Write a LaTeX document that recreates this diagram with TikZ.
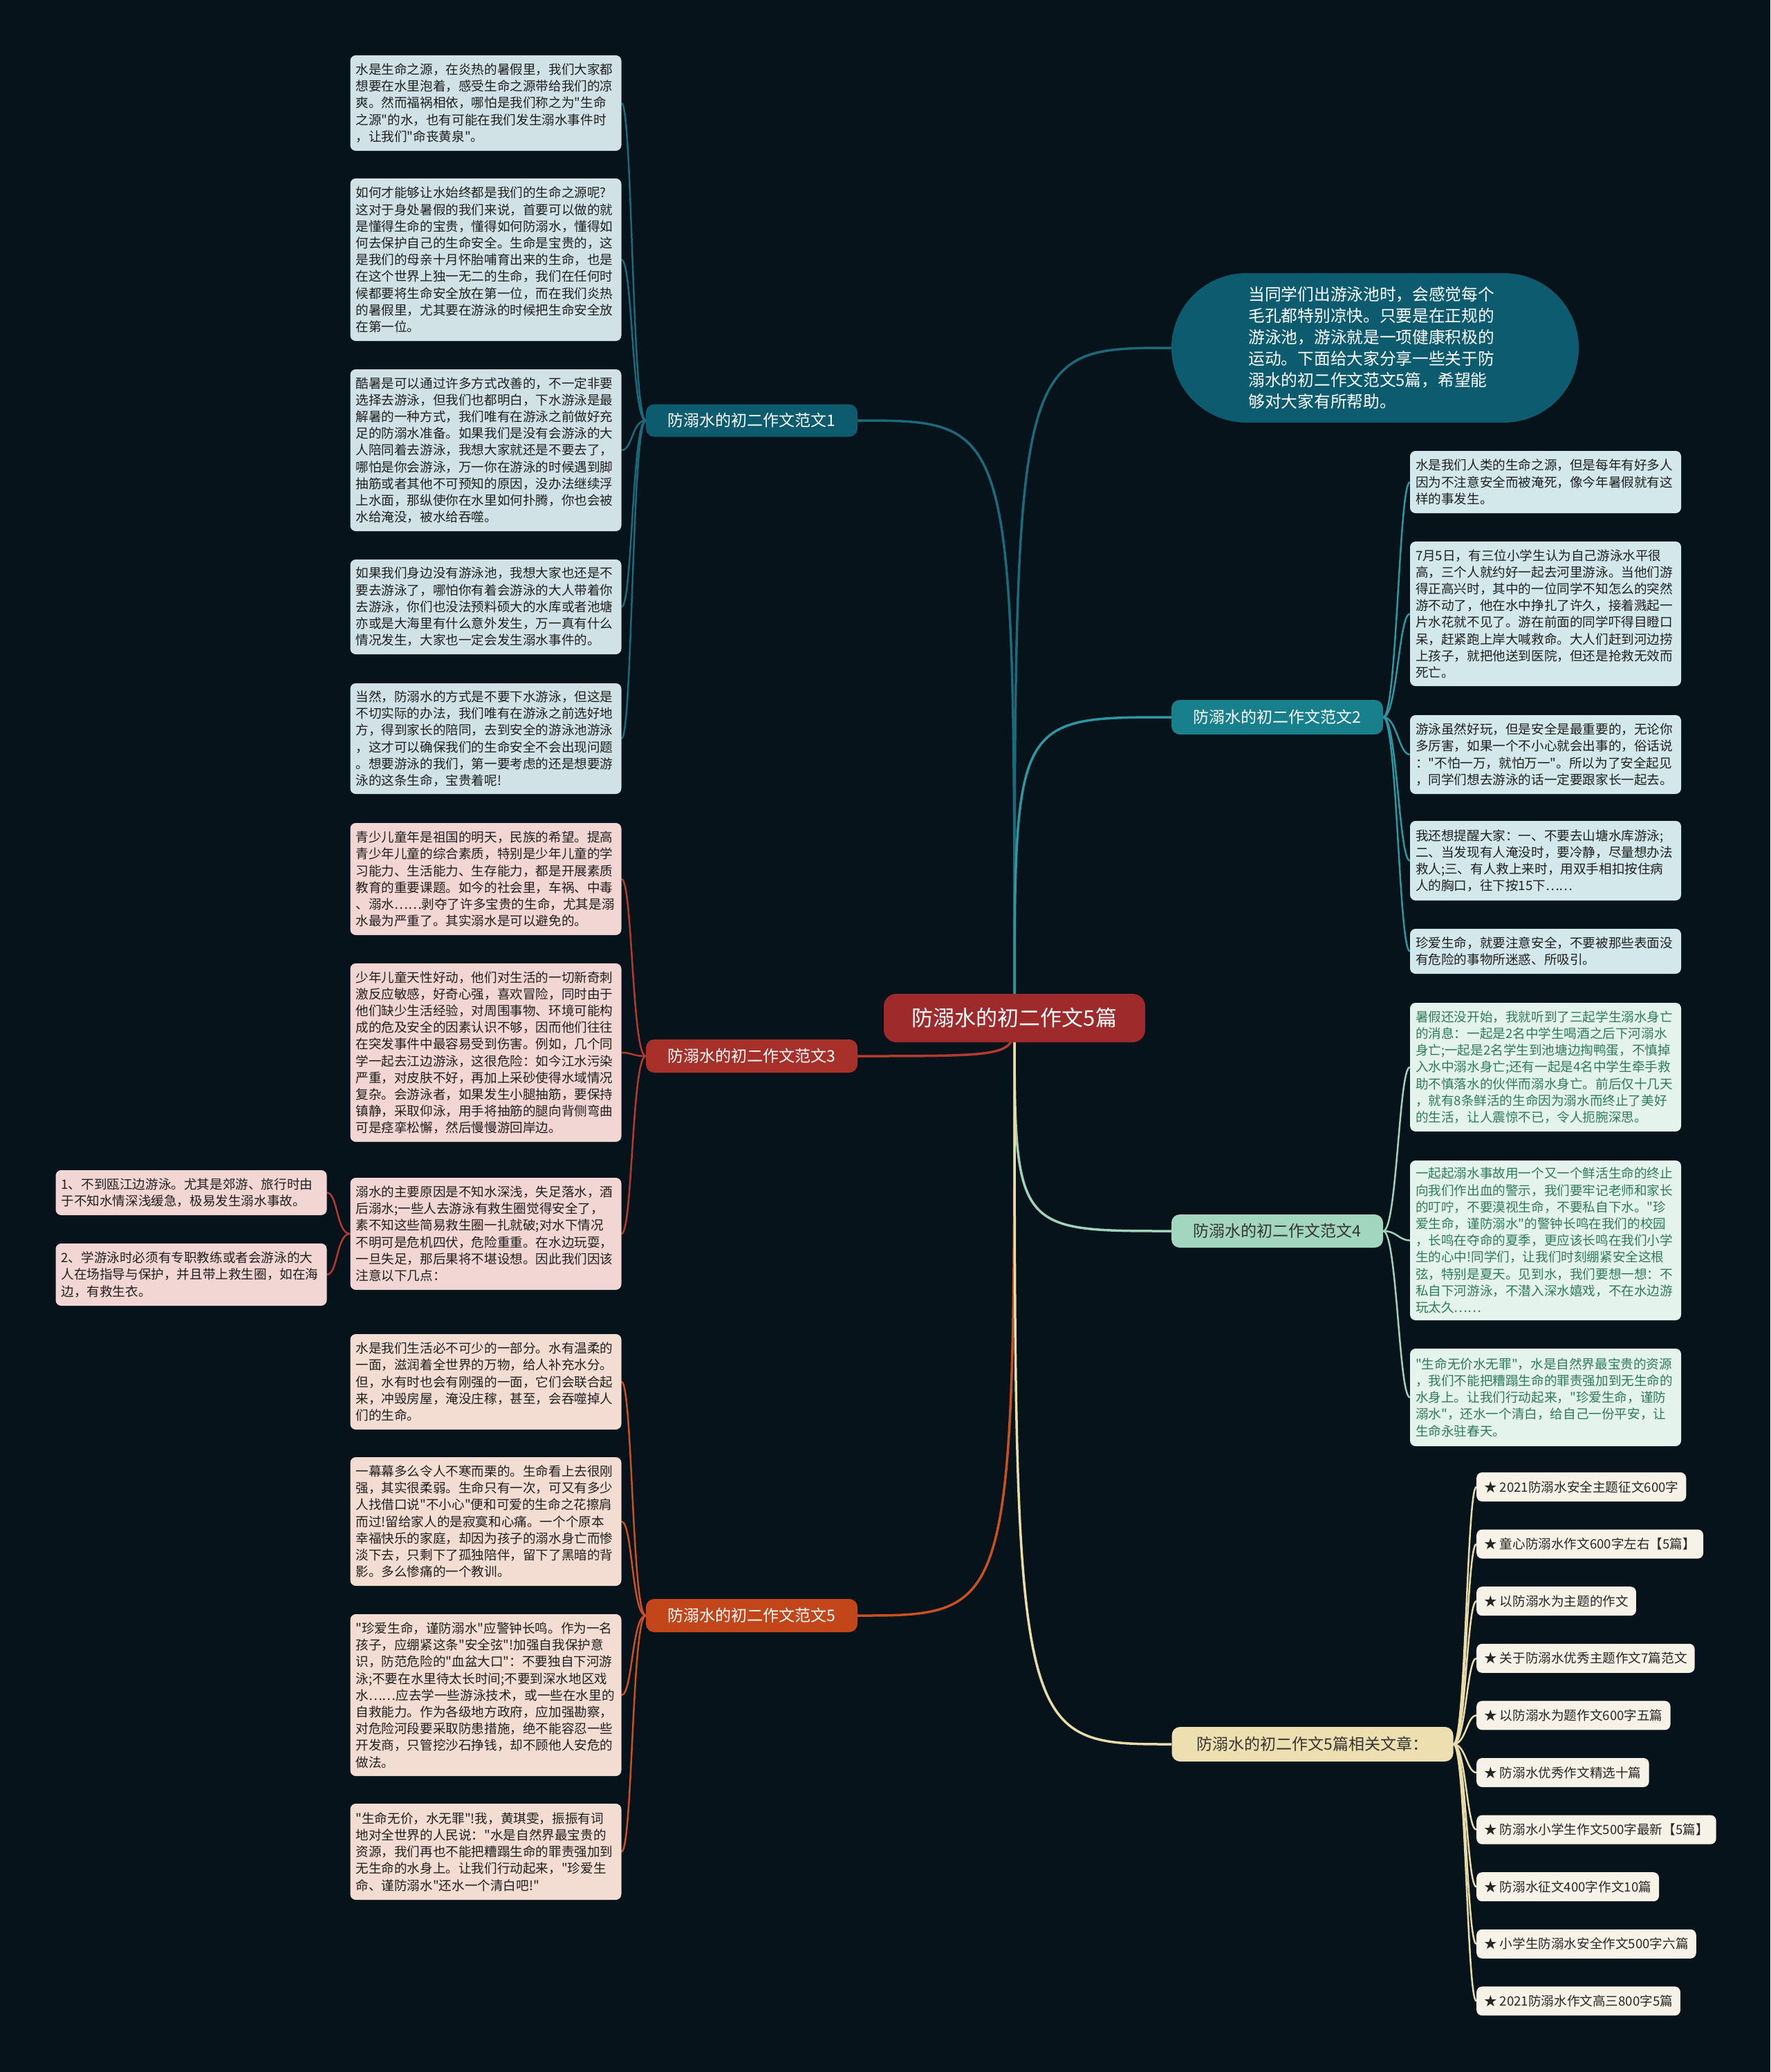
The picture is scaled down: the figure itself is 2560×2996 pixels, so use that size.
\documentclass[tikz,border=0pt]{standalone}
\usepackage{fontspec}
\setmainfont{Noto Sans CJK SC}[Ligatures=TeXOff]
\pgfdeclarelayer{bg}
\pgfdeclarelayer{lines}
\pgfsetlayers{bg,lines,main}
\definecolor{bgc}{HTML}{07131A}
\definecolor{tealD}{HTML}{0D5B6E}
\definecolor{tealM}{HTML}{17808C}
\definecolor{redB}{HTML}{A8302A}
\definecolor{orgB}{HTML}{C2461A}
\definecolor{mintB}{HTML}{A3D6BF}
\definecolor{yelB}{HTML}{EEDFB0}
\definecolor{ctrB}{HTML}{9E2A2B}
\definecolor{boxT}{HTML}{D0E2E6}
\definecolor{boxT2}{HTML}{D3E8EA}
\definecolor{boxM}{HTML}{E4F3EC}
\definecolor{boxR}{HTML}{F2D6D3}
\definecolor{boxO}{HTML}{F3DDD3}
\definecolor{boxY}{HTML}{F6F2E7}
\definecolor{txtM}{HTML}{2E7A5E}
\definecolor{lnT}{HTML}{1B6A7C}
\definecolor{lnT2}{HTML}{2A97A1}
\definecolor{lnR}{HTML}{B33A2E}
\definecolor{lnO}{HTML}{C8511F}
\definecolor{lnM}{HTML}{9ED3BC}
\definecolor{lnY}{HTML}{EADCA8}
\tikzset{
  bodyfont/.style={font=\fontsize{18.6}{24.2}\selectfont},
  para/.style={bodyfont, rounded corners=8pt, align=left, text width=376pt, inner xsep=8pt, inner ysep=3pt, text=black!88},
  tbox/.style={para, fill=boxT},
  t2box/.style={para, fill=boxT2},
  mbox/.style={para, fill=boxM, text=txtM},
  rbox/.style={para, fill=boxR},
  obox/.style={para, fill=boxO},
  ybox/.style={bodyfont, rounded corners=8pt, fill=boxY, text=black!85, inner xsep=11pt, minimum height=42pt, anchor=west},
  branch/.style={font=\fontsize{23}{28}\selectfont, rounded corners=12pt, minimum width=306pt, minimum height=48pt, text=white},
  cline/.style={line width=3.5pt},
  kline/.style={line width=2.5pt},
}
\begin{document}
\begin{tikzpicture}[x=1pt,y=-1pt]
\useasboundingbox (0,0) rectangle (2560,2996);
\begin{pgfonlayer}{bg}
\fill[bgc] (0,0) rectangle (2560,2996);
\end{pgfonlayer}

% center
\node[font=\fontsize{31}{36}\selectfont, fill=ctrB, text=white, rounded corners=18pt, minimum width=378pt, minimum height=70pt] (c) at (1467,1472) {防溺水的初二作文5篇};

% intro
\node[font=\fontsize{23.7}{31}\selectfont, fill=tealD, text=white, rounded corners=108pt, minimum width=589pt, minimum height=216pt, align=left, text width=366pt] (intro) at (1988.5,503) {当同学们出游泳池时，会感觉每个\\毛孔都特别凉快。只要是在正规的\\游泳池，游泳就是一项健康积极的\\运动。下面给大家分享一些关于防\\溺水的初二作文范文5篇，希望能\\够对大家有所帮助。};

% branches
\node[branch, fill=tealD, minimum height=47pt] (b1) at (1087,608) {防溺水的初二作文范文1};
\node[branch, fill=tealM, minimum height=50pt] (b2) at (1847,1037) {防溺水的初二作文范文2};
\node[branch, fill=redB] (b3) at (1087,1527) {防溺水的初二作文范文3};
\node[branch, fill=mintB, text=black!80] (b4) at (1847,1780) {防溺水的初二作文范文4};
\node[branch, fill=orgB] (b5) at (1087,2336) {防溺水的初二作文范文5};
\node[branch, fill=yelB, text=black!80, minimum width=407pt, minimum height=50pt] (b6) at (1898,2522) {防溺水的初二作文5篇相关文章：};

% branch 1 children
\node[tbox, minimum height=138pt] (b1a) at (702.5,149) {水是生命之源，在炎热的暑假里，我们大家都\\想要在水里泡着，感受生命之源带给我们的凉\\爽。然而福祸相依，哪怕是我们称之为"生命\\之源"的水，也有可能在我们发生溺水事件时\\，让我们"命丧黄泉"。};
\node[tbox, minimum height=235pt] (b1b) at (702.5,375.5) {如何才能够让水始终都是我们的生命之源呢?\\这对于身处暑假的我们来说，首要可以做的就\\是懂得生命的宝贵，懂得如何防溺水，懂得如\\何去保护自己的生命安全。生命是宝贵的，这\\是我们的母亲十月怀胎哺育出来的生命，也是\\在这个世界上独一无二的生命，我们在任何时\\候都要将生命安全放在第一位，而在我们炎热\\的暑假里，尤其要在游泳的时候把生命安全放\\在第一位。};
\node[tbox, minimum height=234pt] (b1c) at (702.5,651) {酷暑是可以通过许多方式改善的，不一定非要\\选择去游泳，但我们也都明白，下水游泳是最\\解暑的一种方式，我们唯有在游泳之前做好充\\足的防溺水准备。如果我们是没有会游泳的大\\人陪同着去游泳，我想大家就还是不要去了，\\哪怕是你会游泳，万一你在游泳的时候遇到脚\\抽筋或者其他不可预知的原因，没办法继续浮\\上水面，那纵使你在水里如何扑腾，你也会被\\水给淹没，被水给吞噬。};
\node[tbox, minimum height=137pt] (b1d) at (702.5,877.5) {如果我们身边没有游泳池，我想大家也还是不\\要去游泳了，哪怕你有着会游泳的大人带着你\\去游泳，你们也没法预料硕大的水库或者池塘\\亦或是大海里有什么意外发生，万一真有什么\\情况发生，大家也一定会发生溺水事件的。};
\node[tbox, minimum height=160pt] (b1e) at (702.5,1068) {当然，防溺水的方式是不要下水游泳，但这是\\不切实际的办法，我们唯有在游泳之前选好地\\方，得到家长的陪同，去到安全的游泳池游泳\\，这才可以确保我们的生命安全不会出现问题\\。想要游泳的我们，第一要考虑的还是想要游\\泳的这条生命，宝贵着呢!};

% branch 3 children
\node[rbox, minimum height=162pt] (b3a) at (702.5,1271) {青少儿童年是祖国的明天，民族的希望。提高\\青少年儿童的综合素质，特别是少年儿童的学\\习能力、生活能力、生存能力，都是开展素质\\教育的重要课题。如今的社会里，车祸、中毒\\、溺水……剥夺了许多宝贵的生命，尤其是溺\\水最为严重了。其实溺水是可以避免的。};
\node[rbox, minimum height=258pt] (b3b) at (702.5,1522) {少年儿童天性好动，他们对生活的一切新奇刺\\激反应敏感，好奇心强，喜欢冒险，同时由于\\他们缺少生活经验，对周围事物、环境可能构\\成的危及安全的因素认识不够，因而他们往往\\在突发事件中最容易受到伤害。例如，几个同\\学一起去江边游泳，这很危险：如今江水污染\\严重，对皮肤不好，再加上采砂使得水域情况\\复杂。会游泳者，如果发生小腿抽筋，要保持\\镇静，采取仰泳，用手将抽筋的腿向背侧弯曲\\可是痉挛松懈，然后慢慢游回岸边。};
\node[rbox, minimum height=162pt] (b3c) at (702.5,1784) {溺水的主要原因是不知水深浅，失足落水，酒\\后溺水;一些人去游泳有救生圈觉得安全了，\\素不知这些简易救生圈一扎就破;对水下情况\\不明可是危机四伏，危险重重。在水边玩耍，\\一旦失足，那后果将不堪设想。因此我们因该\\注意以下几点：};
\node[rbox, minimum height=65pt] (l1) at (276.5,1724.5) {1、不到瓯江边游泳。尤其是郊游、旅行时由\\于不知水情深浅缓急，极易发生溺水事故。};
\node[rbox, minimum height=90pt] (l2) at (276.5,1843) {2、学游泳时必须有专职教练或者会游泳的大\\人在场指导与保护，并且带上救生圈，如在海\\边，有救生衣。};

% branch 5 children
\node[obox, minimum height=138pt] (b5a) at (702.5,1998) {水是我们生活必不可少的一部分。水有温柔的\\一面，滋润着全世界的万物，给人补充水分。\\但，水有时也会有刚强的一面，它们会联合起\\来，冲毁房屋，淹没庄稼，甚至，会吞噬掉人\\们的生命。};
\node[obox, minimum height=186pt] (b5b) at (702.5,2200) {一幕幕多么令人不寒而栗的。生命看上去很刚\\强，其实很柔弱。生命只有一次，可又有多少\\人找借口说"不小心"便和可爱的生命之花擦肩\\而过!留给家人的是寂寞和心痛。一个个原本\\幸福快乐的家庭，却因为孩子的溺水身亡而惨\\淡下去，只剩下了孤独陪伴，留下了黑暗的背\\影。多么惨痛的一个教训。};
\node[obox, minimum height=234pt] (b5c) at (702.5,2451) {"珍爱生命，谨防溺水"应警钟长鸣。作为一名\\孩子，应绷紧这条"安全弦"!加强自我保护意\\识，防范危险的"血盆大口"：不要独自下河游\\泳;不要在水里待太长时间;不要到深水地区戏\\水……应去学一些游泳技术，或一些在水里的\\自救能力。作为各级地方政府，应加强勘察，\\对危险河段要采取防患措施，绝不能容忍一些\\开发商，只管挖沙石挣钱，却不顾他人安危的\\做法。};
\node[obox, minimum height=139pt] (b5d) at (702.5,2677.5) {"生命无价，水无罪"!我，黄琪雯，振振有词\\地对全世界的人民说："水是自然界最宝贵的\\资源，我们再也不能把糟蹋生命的罪责强加到\\无生命的水身上。让我们行动起来，"珍爱生\\命、谨防溺水"还水一个清白吧!"};

% branch 2 children
\node[t2box, minimum height=90pt] (b2a) at (2235,697) {水是我们人类的生命之源，但是每年有好多人\\因为不注意安全而被淹死，像今年暑假就有这\\样的事发生。};
\node[t2box, minimum height=209pt] (b2b) at (2235,887.5) {7月5日，有三位小学生认为自己游泳水平很\\高，三个人就约好一起去河里游泳。当他们游\\得正高兴时，其中的一位同学不知怎么的突然\\游不动了，他在水中挣扎了许久，接着溅起一\\片水花就不见了。游在前面的同学吓得目瞪口\\呆，赶紧跑上岸大喊救命。大人们赶到河边捞\\上孩子，就把他送到医院，但还是抢救无效而\\死亡。};
\node[t2box, minimum height=114pt] (b2c) at (2235,1091) {游泳虽然好玩，但是安全是最重要的，无论你\\多厉害，如果一个不小心就会出事的，俗话说\\："不怕一万，就怕万一"。所以为了安全起见\\，同学们想去游泳的话一定要跟家长一起去。};
\node[t2box, minimum height=115pt] (b2d) at (2235,1244.5) {我还想提醒大家：一、不要去山塘水库游泳;\\二、当发现有人淹没时，要冷静，尽量想办法\\救人;三、有人救上来时，用双手相扣按住病\\人的胸口，往下按15下……};
\node[t2box, minimum height=65pt] (b2e) at (2235,1375.5) {珍爱生命，就要注意安全，不要被那些表面没\\有危险的事物所迷惑、所吸引。};

% branch 4 children
\node[mbox, minimum height=186pt] (b4a) at (2235,1543) {暑假还没开始，我就听到了三起学生溺水身亡\\的消息：一起是2名中学生喝酒之后下河溺水\\身亡;一起是2名学生到池塘边掏鸭蛋，不慎掉\\入水中溺水身亡;还有一起是4名中学生牵手救\\助不慎落水的伙伴而溺水身亡。前后仅十几天\\，就有8条鲜活的生命因为溺水而终止了美好\\的生活，让人震惊不已，令人扼腕深思。};
\node[mbox, minimum height=231pt] (b4b) at (2235,1793.5) {一起起溺水事故用一个又一个鲜活生命的终止\\向我们作出血的警示，我们要牢记老师和家长\\的叮咛，不要漠视生命，不要私自下水。"珍\\爱生命，谨防溺水"的警钟长鸣在我们的校园\\，长鸣在夺命的夏季，更应该长鸣在我们小学\\生的心中!同学们，让我们时刻绷紧安全这根\\弦，特别是夏天。见到水，我们要想一想：不\\私自下河游泳，不潜入深水嬉戏，不在水边游\\玩太久……};
\node[mbox, minimum height=141pt] (b4c) at (2235,2020.5) {"生命无价水无罪"，水是自然界最宝贵的资源\\，我们不能把糟蹋生命的罪责强加到无生命的\\水身上。让我们行动起来，"珍爱生命，谨防\\溺水"，还水一个清白，给自己一份平安，让\\生命永驻春天。};

% branch 6 children
\node[ybox] (r1) at (2135,2150) {★ 2021防溺水安全主题征文600字};
\node[ybox] (r2) at (2135,2232.6) {★ 童心防溺水作文600字左右【5篇】};
\node[ybox] (r3) at (2135,2315.2) {★ 以防溺水为主题的作文};
\node[ybox] (r4) at (2135,2397.8) {★ 关于防溺水优秀主题作文7篇范文};
\node[ybox] (r5) at (2135,2480.4) {★ 以防溺水为题作文600字五篇};
\node[ybox] (r6) at (2135,2563) {★ 防溺水优秀作文精选十篇};
\node[ybox] (r7) at (2135,2645.6) {★ 防溺水小学生作文500字最新【5篇】};
\node[ybox] (r8) at (2135,2728.2) {★ 防溺水征文400字作文10篇};
\node[ybox] (r9) at (2135,2810.8) {★ 小学生防溺水安全作文500字六篇};
\node[ybox] (r10) at (2135,2893.4) {★ 2021防溺水作文高三800字5篇};

\begin{pgfonlayer}{lines}
% center connectors
\draw[cline, lnT] (c.center) .. controls (c.center |- intro.west) .. (intro.west);
\draw[cline, lnT] (c.center) .. controls (c.center |- b1.east) .. (b1.east);
\draw[cline, lnT2] (c.center) .. controls (c.center |- b2.west) .. (b2.west);
\draw[cline, lnR] (c.center) .. controls (c.center |- b3.east) .. (b3.east);
\draw[cline, lnM] (c.center) .. controls (c.center |- b4.west) .. (b4.west);
\draw[cline, lnO] (c.center) .. controls (c.center |- b5.east) .. (b5.east);
\draw[cline, lnY] (c.center) .. controls (c.center |- b6.west) .. (b6.west);
% branch 1
\foreach \n in {b1a,b1b,b1c,b1d,b1e}
  \draw[kline, lnT] (b1.west) .. controls +(-20,0) and +(16,0) .. (\n.east);
% branch 3
\foreach \n in {b3a,b3b,b3c}
  \draw[kline, lnR] (b3.west) .. controls +(-20,0) and +(16,0) .. (\n.east);
\foreach \n in {l1,l2}
  \draw[kline, lnR] (b3c.west) .. controls +(-20,0) and +(16,0) .. (\n.east);
% branch 5
\foreach \n in {b5a,b5b,b5c,b5d}
  \draw[kline, lnO] (b5.west) .. controls +(-20,0) and +(16,0) .. (\n.east);
% branch 2
\foreach \n in {b2a,b2b,b2c,b2d,b2e}
  \draw[kline, lnT2] (b2.east) .. controls +(20,0) and +(-16,0) .. (\n.west);
% branch 4
\foreach \n in {b4a,b4b,b4c}
  \draw[kline, lnM] (b4.east) .. controls +(20,0) and +(-16,0) .. (\n.west);
% branch 6
\foreach \n in {r1,r2,r3,r4,r5,r6,r7,r8,r9,r10}
  \draw[kline, lnY] (b6.east) .. controls +(18,0) and +(-14,0) .. (\n.west);
\end{pgfonlayer}
\end{tikzpicture}
\end{document}
